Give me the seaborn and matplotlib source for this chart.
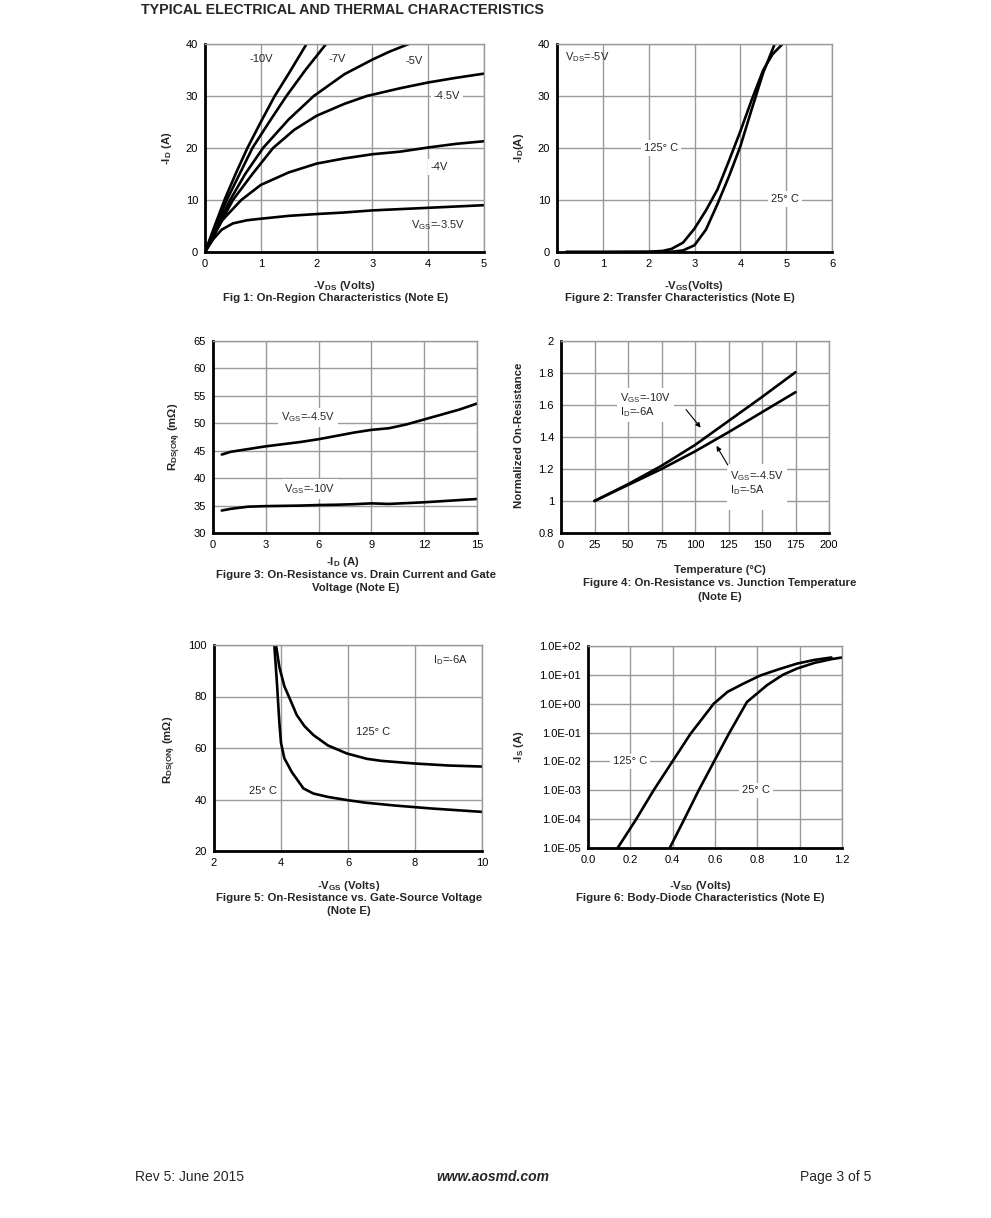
import seaborn as sns
import matplotlib
matplotlib.use("Agg")
import matplotlib.pyplot as plt
import pandas as pd
from matplotlib.ticker import FuncFormatter, FixedLocator, NullLocator

# Fig 1: On-region characteristics  (-VDS, -ID) per VGS
f1_vds_10 = [0, 0.18, 0.36, 0.56, 0.76, 1.0, 1.25, 1.5, 1.82]
f1_id_10 = [0, 5.2, 10.3, 15.3, 20, 25, 30, 34.3, 40]
f1_vds_7 = [0, 0.2, 0.39, 0.62, 0.85, 1.15, 1.46, 1.8, 2.17]
f1_id_7 = [0, 5, 10, 15, 20, 25, 30, 35, 40]
f1_vds_5 = [0, 0.22, 0.45, 0.72, 1.04, 1.5, 1.95, 2.5, 3.0, 3.3, 3.65]
f1_id_5 = [0, 5, 10, 15, 20, 25.5, 30, 34.2, 37, 38.5, 40]
f1_vds_45 = [0, 0.25, 0.5, 0.85, 1.22, 1.6, 2.0, 2.5, 2.9, 3.5, 4.0, 4.5, 5.0]
f1_id_45 = [0, 5, 10, 15, 20, 23.5, 26.2, 28.5, 30, 31.5, 32.6, 33.5, 34.3]
f1_vds_4 = [0, 0.3, 0.65, 1.0, 1.5, 2.0, 2.5, 3.0, 3.5, 4.0, 4.5, 5.0]
f1_id_4 = [0, 6, 10, 12.9, 15.3, 17, 18, 18.8, 19.3, 20.1, 20.8, 21.3]
f1_vds_35 = [0, 0.15, 0.3, 0.5, 0.75, 1.0, 1.5, 2.0, 2.5, 3.0, 4.0, 5.0]
f1_id_35 = [0, 2.5, 4.3, 5.5, 6.1, 6.4, 6.95, 7.3, 7.6, 8.0, 8.5, 9.0]

# Fig 2: Transfer characteristics
f2_vgs_125 = [0.2, 1.0, 2.0, 2.3, 2.5, 2.75, 3.0, 3.25, 3.5, 3.75, 4.0, 4.25, 4.5, 4.7, 4.92]
f2_id_125 = [0, 0, 0.05, 0.2, 0.6, 1.8, 4.5, 8.0, 12.0, 17.5, 23.2, 29.3, 35.0, 38.0, 40]
f2_vgs_25 = [0.2, 2.0, 2.5, 2.75, 3.0, 3.25, 3.5, 3.75, 4.0, 4.25, 4.5, 4.75]
f2_id_25 = [0, 0, 0.05, 0.3, 1.3, 4.3, 9.2, 14.5, 20.3, 27.5, 34.5, 40]

# Fig 3: On-resistance vs drain current
f3_id = [0.5, 1, 2, 3, 4, 5, 6, 7, 8, 9, 10, 11, 12, 13, 14, 15]
f3_r_45 = [44.3, 44.8, 45.3, 45.8, 46.2, 46.6, 47.1, 47.7, 48.3, 48.8, 49.1, 49.8, 50.7, 51.6, 52.5, 53.6]
f3_r_10 = [34.1, 34.4, 34.8, 34.9, 34.95, 35.0, 35.1, 35.15, 35.25, 35.4, 35.3, 35.45, 35.6, 35.8, 36.0, 36.2]

# Fig 4: Normalized on-resistance vs temperature
f4_temp = [25, 50, 75, 100, 125, 150, 175]
f4_r_10 = [1.0, 1.105, 1.22, 1.35, 1.5, 1.65, 1.805]
f4_r_45 = [1.0, 1.1, 1.2, 1.31, 1.43, 1.555, 1.68]

# Fig 5: On-resistance vs gate-source voltage
f5_vgs_125 = [3.85, 3.95, 4.1, 4.3, 4.47, 4.7, 4.97, 5.4, 5.96, 6.56, 7.0, 7.96, 9.0, 10.0]
f5_r_125 = [100, 91.5, 84, 78, 72.8, 68.5, 65, 61, 57.9, 55.8, 55.0, 54.0, 53.2, 52.8]
f5_vgs_25 = [3.8, 3.88, 3.95, 4.0, 4.1, 4.32, 4.67, 4.97, 5.4, 5.96, 6.5, 7.36, 8.5, 10.0]
f5_r_25 = [100, 85, 70, 62, 56, 50.7, 44.3, 42.3, 41, 39.8, 38.8, 37.7, 36.5, 35.2]

# Fig 6: Body-diode characteristics (-VSD, -IS)
f6_vsd_125 = [0.14, 0.224, 0.31, 0.397, 0.484, 0.594, 0.66, 0.735, 0.814, 0.9, 0.987, 1.07, 1.15]
f6_is_125 = [1e-5, 9e-5, 1e-3, 9.5e-3, 9e-2, 1.0, 2.6, 5.0, 9.5, 15.5, 24.5, 33, 40]
f6_vsd_25 = [0.386, 0.452, 0.523, 0.594, 0.665, 0.751, 0.846, 0.92, 0.987, 1.07, 1.15, 1.2]
f6_is_25 = [1e-5, 9e-5, 1e-3, 9.5e-3, 9e-2, 1.15, 4.4, 10, 16.5, 26, 35, 40]

sns.set_style("whitegrid")
plt.rcParams["font.family"] = ["Liberation Sans", "DejaVu Sans"]
plt.rcParams["mathtext.fontset"] = "custom"
plt.rcParams["mathtext.rm"] = "Liberation Sans"
plt.rcParams["mathtext.it"] = "Liberation Sans:italic"
plt.rcParams["mathtext.bf"] = "Liberation Sans:bold"

W, H = 991, 1218
fig = plt.figure(figsize=(W / 100, H / 100), dpi=100)

GRID = "#9a9a9a"
LW = 1.9
TICK_FS = 8
ANN_FS = 8
LAB_FS = 8.2


def px_axes(l, t, r, b):
    return fig.add_axes([l / W, 1 - b / H, (r - l) / W, (b - t) / H])


def ftext(x, y, s, **kw):
    fig.text(x / W, 1 - y / H, s, **kw)


def style(ax, xlim, ylim, xticks, yticks):
    ax.set_xlim(*xlim)
    ax.set_ylim(*ylim)
    if xticks is not None:
        ax.xaxis.set_major_locator(FixedLocator(xticks))
    if yticks is not None:
        ax.yaxis.set_major_locator(FixedLocator(yticks))
    ax.grid(True, color=GRID, linewidth=1.0)
    ax.set_axisbelow(True)
    for side in ["top", "right"]:
        ax.spines[side].set_color(GRID)
        ax.spines[side].set_linewidth(1.0)
    for side in ["left", "bottom"]:
        ax.spines[side].set_color("black")
        ax.spines[side].set_linewidth(2.0)
    ax.tick_params(length=0, labelsize=TICK_FS, pad=5, colors="black")
    ax.set_xlabel("")
    ax.set_ylabel("")
    if ax.get_legend():
        ax.get_legend().remove()


def curves(ax, pairs):
    rows = []
    for name, xs, ys in pairs:
        for x, y in zip(xs, ys):
            rows.append({"x": x, "y": y, "curve": name})
    df = pd.DataFrame(rows)
    sns.lineplot(data=df, x="x", y="y", units="curve", estimator=None, sort=False,
                 color="black", linewidth=LW, ax=ax)


box = dict(boxstyle="square,pad=0.25", fc="white", ec="none")

# ---- Fig 1
ax1 = px_axes(205, 44, 484, 252)
curves(ax1, [("-10V", f1_vds_10, f1_id_10), ("-7V", f1_vds_7, f1_id_7),
             ("-5V", f1_vds_5, f1_id_5), ("-4.5V", f1_vds_45, f1_id_45),
             ("-4V", f1_vds_4, f1_id_4), ("-3.5V", f1_vds_35, f1_id_35)])
style(ax1, (0, 5), (0, 40), range(0, 6), range(0, 41, 10))
ax1.text(1.0, 37.2, "-10V", fontsize=ANN_FS, ha="center", va="center")
ax1.text(2.37, 37.2, "-7V", fontsize=ANN_FS, ha="center", va="center")
ax1.text(3.75, 36.8, "-5V", fontsize=ANN_FS, ha="center", va="center", bbox=box)
ax1.text(4.34, 30.0, "-4.5V", fontsize=ANN_FS, ha="center", va="center", bbox=box)
ax1.text(4.2, 16.3, "-4V", fontsize=ANN_FS, ha="center", va="center", bbox=box)
ax1.text(4.17, 5.2, r"V$_{\mathrm{GS}}$=-3.5V", fontsize=ANN_FS, ha="center", va="center")

# ---- Fig 2
ax2 = px_axes(557, 44, 832, 252)
curves(ax2, [("125C", f2_vgs_125, f2_id_125), ("25C", f2_vgs_25, f2_id_25)])
style(ax2, (0, 6), (0, 40), range(0, 7), range(0, 41, 10))
ax2.text(0.17, 37.5, r"V$_{\mathrm{DS}}$=-5V", fontsize=ANN_FS, ha="left", va="center")
ax2.text(2.27, 20.0, "125° C", fontsize=ANN_FS, ha="center", va="center", bbox=box)
ax2.text(4.97, 10.2, "25° C", fontsize=ANN_FS, ha="center", va="center", bbox=box)

# ---- Fig 3
ax3 = px_axes(213, 341, 477, 533)
curves(ax3, [("-4.5V", f3_id, f3_r_45), ("-10V", f3_id, f3_r_10)])
style(ax3, (0, 15), (30, 65), range(0, 16, 3), range(30, 66, 5))
ax3.text(5.4, 51.1, r"V$_{\mathrm{GS}}$=-4.5V", fontsize=ANN_FS, ha="center", va="center", bbox=box)
ax3.text(5.5, 38.0, r"V$_{\mathrm{GS}}$=-10V", fontsize=ANN_FS, ha="center", va="center", bbox=box)

# ---- Fig 4
ax4 = px_axes(561, 341, 829, 533)
curves(ax4, [("-10V", f4_temp, f4_r_10), ("-4.5V", f4_temp, f4_r_45)])
style(ax4, (0, 200), (0.8, 2.0), range(0, 201, 25), [0.8, 1.0, 1.2, 1.4, 1.6, 1.8, 2.0])
ax4.yaxis.set_major_formatter(FuncFormatter(lambda v, p: f"{v:g}"))
ax4.text(44, 1.6, "V$_{\\mathrm{GS}}$=-10V\nI$_{\\mathrm{D}}$=-6A", fontsize=ANN_FS,
         ha="left", va="center", linespacing=1.0,
         bbox=dict(boxstyle="square,pad=0.3", fc="white", ec="none"))
ax4.text(126, 1.08, "V$_{\\mathrm{GS}}$=-4.5V\nI$_{\\mathrm{D}}$=-5A\n ", fontsize=ANN_FS,
         ha="left", va="center", linespacing=1.0,
         bbox=dict(boxstyle="square,pad=0.3", fc="white", ec="none"))
ax4.annotate("", xy=(105.5, 1.445), xytext=(92, 1.585),
             arrowprops=dict(arrowstyle="-|>", color="black", lw=0.8, mutation_scale=7))
ax4.annotate("", xy=(115, 1.36), xytext=(125.5, 1.21),
             arrowprops=dict(arrowstyle="-|>", color="black", lw=0.8, mutation_scale=7))

# ---- Fig 5
ax5 = px_axes(214, 645, 482, 851)
curves(ax5, [("125C", f5_vgs_125, f5_r_125), ("25C", f5_vgs_25, f5_r_25)])
style(ax5, (2, 10), (20, 100), range(2, 11, 2), range(20, 101, 20))
ax5.text(8.55, 94.2, r"I$_{\mathrm{D}}$=-6A", fontsize=ANN_FS, ha="left", va="center")
ax5.text(6.75, 66.3, "125° C", fontsize=ANN_FS, ha="center", va="center")
ax5.text(3.45, 43.3, "25° C", fontsize=ANN_FS, ha="center", va="center", bbox=box)

# ---- Fig 6
ax6 = px_axes(588, 646, 842, 848)
ax6.set_yscale("log")
curves(ax6, [("125C", f6_vsd_125, f6_is_125), ("25C", f6_vsd_25, f6_is_25)])
style(ax6, (0, 1.2), (1e-5, 1e2), [0, 0.2, 0.4, 0.6, 0.8, 1.0, 1.2],
      [1e-5, 1e-4, 1e-3, 1e-2, 1e-1, 1, 10, 100])
ax6.yaxis.set_minor_locator(NullLocator())
ax6.yaxis.set_major_formatter(FuncFormatter(lambda v, p: f"{v:.1E}"))
ax6.xaxis.set_major_formatter(FuncFormatter(lambda v, p: f"{v:.1f}"))
ax6.text(0.2, 1e-2, "125° C", fontsize=ANN_FS, ha="center", va="center", bbox=box)
ax6.text(0.795, 1e-3, "25° C", fontsize=ANN_FS, ha="center", va="center", bbox=box)

# ---- axis labels and captions
bold = dict(fontsize=LAB_FS, fontweight="bold", ha="center", va="center")
ftext(344, 286, r"-V$_{\mathbf{DS}}$ (Volts)", **bold)
ftext(336, 298, "Fig 1: On-Region Characteristics (Note E)", **bold)
ftext(167, 148, r"-I$_{\mathbf{D}}$ (A)", rotation=90, **bold)

ftext(694, 286, r"-V$_{\mathbf{GS}}$(Volts)", **bold)
ftext(680, 298, "Figure 2: Transfer Characteristics (Note E)", **bold)
ftext(519, 148, r"-I$_{\mathbf{D}}$(A)", rotation=90, **bold)

ftext(343, 562, r"-I$_{\mathbf{D}}$ (A)", **bold)
ftext(356, 575, "Figure 3: On-Resistance vs. Drain Current and Gate", **bold)
ftext(356, 588, "Voltage (Note E)", **bold)
ftext(175, 437, r"R$_{\mathbf{DS(ON)}}$ (m$\mathbf{\Omega}$)", rotation=90, **bold)

ftext(720, 570, "Temperature (°C)", **bold)
ftext(720, 583, "Figure 4: On-Resistance vs. Junction Temperature", **bold)
ftext(720, 597, "(Note E)", **bold)
ftext(519, 435, "Normalized On-Resistance", rotation=90, **bold)

ftext(349, 886, r"-V$_{\mathbf{GS}}$ (Volts)", **bold)
ftext(349, 898, "Figure 5: On-Resistance vs. Gate-Source Voltage", **bold)
ftext(349, 911, "(Note E)", **bold)
ftext(170, 750, r"R$_{\mathbf{DS(ON)}}$ (m$\mathbf{\Omega}$)", rotation=90, **bold)

ftext(700, 886, r"-V$_{\mathbf{SD}}$ (Volts)", **bold)
ftext(700, 898, "Figure 6: Body-Diode Characteristics (Note E)", **bold)
ftext(519, 747, r"-I$_{\mathbf{S}}$ (A)", rotation=90, **bold)

# ---- page title and footer
ftext(141, 10, "TYPICAL ELECTRICAL AND THERMAL CHARACTERISTICS", fontsize=10.3,
      fontweight="bold", ha="left", va="center")
ftext(135, 1177, "Rev 5: June 2015", fontsize=10, ha="left", va="center")
ftext(493, 1177, "www.aosmd.com", fontsize=10, fontweight="bold", fontstyle="italic",
      ha="center", va="center")
ftext(871, 1177, "Page 3 of 5", fontsize=10, ha="right", va="center")

fig.savefig("out.png", dpi=100)
